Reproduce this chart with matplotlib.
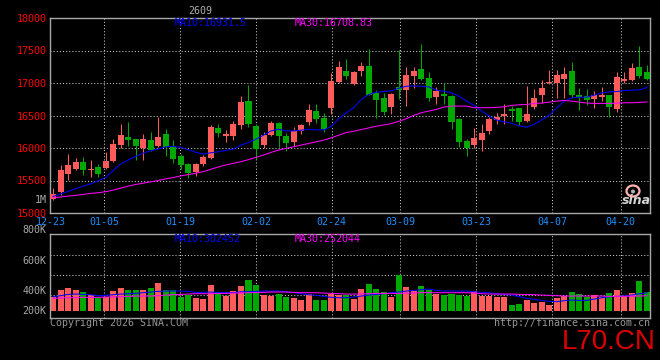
import numpy as np
import matplotlib
matplotlib.use("Agg")
import matplotlib.pyplot as plt
from matplotlib.patches import Ellipse

# ---- data (daily candles 12-23 .. 04-23) ------------------------------------------------
OPEN = [15220, 15322, 15602, 15678, 15790, 15668, 15704, 15688, 15805, 16045,
        16172, 16136, 16004, 16121, 16024, 16212, 16024, 15882, 15754, 15627,
        15754, 15846, 16304, 16187, 16187, 16350, 16721, 16340, 16045, 16197,
        16391, 16177, 16095, 16263, 16401, 16569, 16467, 16609, 17017, 17190,
        16991, 17179, 17256, 16849, 16762, 16630, 16935, 16889, 17103, 17220,
        17078, 16782, 16838, 16798, 16441, 16111, 16045, 16126, 16263, 16431,
        16492, 16594, 16609, 16416, 16630, 16823, 17001, 17001, 17062, 17190,
        16808, 16798, 16747, 16788, 16813, 16594, 17027, 17052, 17246, 17169]
HIGH = [15383, 15739, 15907, 15841, 15856, 15821, 15754, 15933, 16136, 16365,
        16396, 16146, 16212, 16248, 16482, 16289, 16121, 15907, 15770, 15765,
        15892, 16350, 16365, 16279, 16416, 16798, 16976, 16365, 16253, 16416,
        16401, 16238, 16329, 16365, 16670, 16670, 16543, 17154, 17332, 17368,
        17190, 17322, 17525, 16900, 16849, 16849, 17510, 17246, 17246, 17602,
        17164, 16940, 17001, 16813, 16467, 16136, 16304, 16365, 16482, 16543,
        16670, 16645, 16620, 16961, 16910, 17052, 17205, 17205, 17246, 17322,
        16925, 16910, 16884, 16940, 16823, 17169, 17169, 17307, 17571, 17280]
LOW = [15205, 15271, 15515, 15668, 15587, 15561, 15551, 15678, 15790, 15994,
       16034, 15821, 15821, 15958, 16009, 15882, 15770, 15678, 15536, 15576,
       15719, 15831, 16162, 16085, 16121, 16289, 16329, 15831, 16004, 16187,
       16009, 15958, 16024, 16212, 16350, 16380, 16248, 16518, 17001, 17067,
       16976, 17113, 16813, 16467, 16503, 16518, 16757, 16645, 16925, 17042,
       16721, 16670, 16670, 16289, 16009, 15882, 15999, 15958, 16223, 16365,
       16365, 16416, 16355, 16406, 16594, 16686, 16986, 16772, 16772, 16762,
       16584, 16655, 16614, 16721, 16482, 16553, 17001, 17037, 17078, 17040]
CLOSE = [15286, 15663, 15739, 15785, 15663, 15678, 15602, 15800, 16060, 16197,
         16121, 16034, 16136, 15973, 16167, 16009, 15831, 15739, 15617, 15754,
         15866, 16324, 16228, 16212, 16365, 16706, 16365, 15983, 16197, 16391,
         16177, 16075, 16263, 16350, 16584, 16441, 16299, 17037, 17246, 17113,
         17164, 17256, 16823, 16737, 16553, 16833, 16889, 17128, 17190, 17067,
         16762, 16874, 16798, 16401, 16095, 16004, 16156, 16238, 16441, 16472,
         16518, 16569, 16406, 16518, 16772, 16925, 17022, 17128, 17144, 16813,
         16788, 16737, 16813, 16808, 16630, 17088, 17067, 17230, 17113, 17057]
MA10 = [15256, 15291, 15332, 15373, 15413, 15449, 15495, 15546, 15653, 15754,
        15815, 15871, 15922, 15958, 15983, 16019, 16024, 16009, 15973, 15933,
        15907, 15927, 15943, 15963, 15983, 16045, 16085, 16136, 16197, 16263,
        16289, 16263, 16263, 16274, 16289, 16279, 16279, 16330, 16452, 16543,
        16620, 16747, 16823, 16859, 16869, 16879, 16920, 16950, 16955, 16950,
        16940, 16889, 16874, 16849, 16798, 16721, 16655, 16569, 16492, 16431,
        16401, 16380, 16340, 16319, 16365, 16431, 16503, 16620, 16721, 16772,
        16782, 16782, 16813, 16849, 16864, 16869, 16884, 16889, 16894, 16931.5]
MA30 = [15235, 15246, 15261, 15271, 15286, 15302, 15312, 15327, 15352, 15383,
        15413, 15439, 15459, 15480, 15500, 15525, 15546, 15571, 15592, 15612,
        15637, 15673, 15709, 15739, 15765, 15790, 15821, 15856, 15892, 15933,
        15968, 15994, 16019, 16045, 16070, 16095, 16121, 16156, 16197, 16238,
        16258, 16284, 16309, 16335, 16355, 16375, 16411, 16452, 16503, 16543,
        16569, 16594, 16630, 16645, 16645, 16645, 16620, 16620, 16620, 16625,
        16635, 16655, 16665, 16670, 16686, 16691, 16706, 16721, 16731, 16721,
        16706, 16691, 16686, 16686, 16686, 16691, 16696, 16696, 16701, 16708.83]
VOL_K = [225, 349, 382, 349, 309, 264, 219, 236, 332, 382,
         349, 349, 349, 382, 467, 349, 349, 236, 264, 219,
         197, 433, 315, 247, 337, 416, 517, 433, 264, 247,
         281, 236, 219, 180, 281, 180, 180, 281, 264, 264,
         197, 365, 450, 365, 315, 231, 602, 399, 332, 416,
         349, 281, 264, 281, 264, 247, 337, 247, 247, 225,
         231, 96, 112, 180, 124, 146, 96, 214, 247, 315,
         281, 236, 264, 236, 298, 349, 247, 298, 500, 315]
VMA10_K = [236, 253, 275, 281, 275, 270, 253, 259, 270, 281,
           287, 292, 304, 315, 326, 332, 332, 332, 326, 309,
           309, 315, 309, 304, 304, 320, 320, 326, 332, 332,
           332, 320, 304, 287, 270, 259, 242, 225, 219, 219,
           231, 247, 264, 275, 287, 304, 315, 332, 343, 354,
           365, 343, 332, 332, 332, 332, 320, 309, 304, 287,
           275, 264, 236, 208, 191, 174, 157, 152, 169, 180,
           174, 174, 197, 219, 236, 242, 247, 264, 287, 302.452]
VMA30_K = [208, 214, 219, 219, 225, 225, 225, 231, 231, 236,
           242, 247, 247, 247, 253, 264, 270, 275, 281, 287,
           287, 287, 292, 292, 298, 298, 304, 309, 309, 315,
           315, 315, 309, 304, 304, 304, 298, 292, 287, 281,
           281, 281, 287, 292, 292, 292, 292, 298, 298, 304,
           304, 304, 304, 304, 304, 304, 298, 287, 281, 281,
           281, 281, 275, 275, 270, 264, 259, 253, 247, 247,
           247, 247, 247, 247, 242, 242, 242, 247, 247, 252.044]
DATE_IDX = [0, 7, 17, 27, 37, 46, 56, 66, 75]
DATE_LABELS = ["12-23", "01-05", "01-19", "02-02", "02-24", "03-09", "03-23", "04-07", "04-20"]
PRICE_TICKS = [15000, 15500, 16000, 16500, 17000, 17500, 18000]
VOL_LABELS = ["800K", "600K", "400K", "200K"]

W, H = 660, 360
PINK, GREEN = "#ff5b5b", "#00a800"
BLUE, MAG = "#0000ff", "#ff00ff"
GRID = dict(color="#c8c8c8", lw=0.75, ls=(0, (1, 2)))
MONO = "DejaVu Sans Mono"
FS = 7.2


def fx(px):
    return px / W


def fy(py):
    return 1 - py / H


fig = plt.figure(figsize=(W / 100, H / 100), dpi=100, facecolor="black")
ax = fig.add_axes([fx(50), fy(213), 600 / W, 195 / H], facecolor="black")
axv = fig.add_axes([fx(50), fy(318), 600 / W, 84 / H], facecolor="black")

x = np.arange(len(OPEN))
o, h, l, c = (np.array(a, float) for a in (OPEN, HIGH, LOW, CLOSE))
cols = np.where(c >= o, PINK, GREEN)
xt = np.array(DATE_IDX) * 1.0105 - 0.3          # sina spaces date grid a bit wider than candles

# ---- price panel ----
for xx in xt[1:]:
    ax.axvline(xx, zorder=0, **GRID)
for yy in PRICE_TICKS[1:-1]:
    ax.axhline(yy, zorder=0, **GRID)
ax.vlines(x, l, h, colors=cols, lw=0.75, zorder=2)
ax.bar(x, np.maximum(np.abs(c - o), 15), bottom=np.minimum(o, c), width=0.8,
       color=cols, linewidth=0, zorder=3)
ax.plot(x, MA10, color=BLUE, lw=0.75, zorder=4)
ax.plot(x, MA30, color=MAG, lw=0.75, zorder=4)
ax.set_xlim(-0.4, 79.4); ax.set_ylim(15000, 18000)
ax.set_yticks(PRICE_TICKS)
ax.set_yticklabels([str(p) for p in PRICE_TICKS], color="#ff0000", fontsize=FS, family=MONO)
ax.set_xticks(xt)
ax.set_xticklabels(DATE_LABELS, color="#1e90ff", fontsize=FS, family=MONO)
ax.tick_params(length=0, pad=2.6)
ax.tick_params(axis="x", pad=3.2)

# ---- volume panel ----
vol = np.array(VOL_K) * 1000
for xx in xt[1:]:
    axv.axvline(xx, zorder=0, **GRID)
for yy in (940e3, 602e3, 265e3):
    axv.axhline(yy, zorder=0, **GRID)
axv.bar(x, vol, width=0.8, color=cols, linewidth=0, zorder=2)
axv.plot(x, np.array(VMA10_K) * 1000, color=BLUE, lw=0.75, zorder=3)
axv.plot(x, np.array(VMA30_K) * 1000, color=MAG, lw=0.75, zorder=3)
axv.set_xlim(-0.4, 79.4); axv.set_ylim(-123e3, 1294e3)
axv.set_xticks([]); axv.set_yticks([])

for a in (ax, axv):
    for s in a.spines.values():
        s.set_color("#a8a8a8"); s.set_linewidth(1)

# ---- texts ----
txt = dict(family=MONO, fontsize=FS, va="center")
fig.text(fx(200), fy(11), "2609", color="#b0b0b0", ha="center", **txt)
fig.text(fx(175), fy(23.5), "MA10:16931.5", color=BLUE, **txt)
fig.text(fx(295), fy(23.5), "MA30:16708.83", color=MAG, **txt)
fig.text(fx(175), fy(239), "MA10:302452", color=BLUE, **txt)
fig.text(fx(295), fy(239), "MA30:252044", color=MAG, **txt)
fig.text(fx(46.5), fy(200), "1M", color="#a8a8a8", ha="right", **txt)
for lab, py in zip(VOL_LABELS, (230.5, 260.5, 290.5, 310.5)):
    fig.text(fx(46.5), fy(py), lab, color="#a8a8a8", ha="right", **txt)
fig.text(fx(50), fy(323), "Copyright 2026 SINA.COM", color="#969696", ha="left", **txt)
fig.text(fx(650), fy(323), "http://finance.sina.com.cn", color="#969696", ha="right", **txt)
fig.text(fx(656), fy(349), "L70.CN", color="#dd0000", ha="right", va="baseline",
         fontsize=20, family="Liberation Sans")

# sina logo
fig.patches.append(Ellipse((fx(633), fy(191)), 13 / W, 11 / H, transform=fig.transFigure,
                           fill=False, ec="#ffb4b4", lw=1.6))
fig.patches.append(Ellipse((fx(633), fy(191.5)), 4 / W, 4 / H, transform=fig.transFigure,
                           fc="#b0b0b0", ec="none"))
fig.text(fx(636), fy(201), "sina", color="#d4d4d4", ha="center", va="center",
         fontsize=9, weight="bold", style="italic", family="DejaVu Sans")

fig.savefig("out.png", dpi=100, facecolor="black")
